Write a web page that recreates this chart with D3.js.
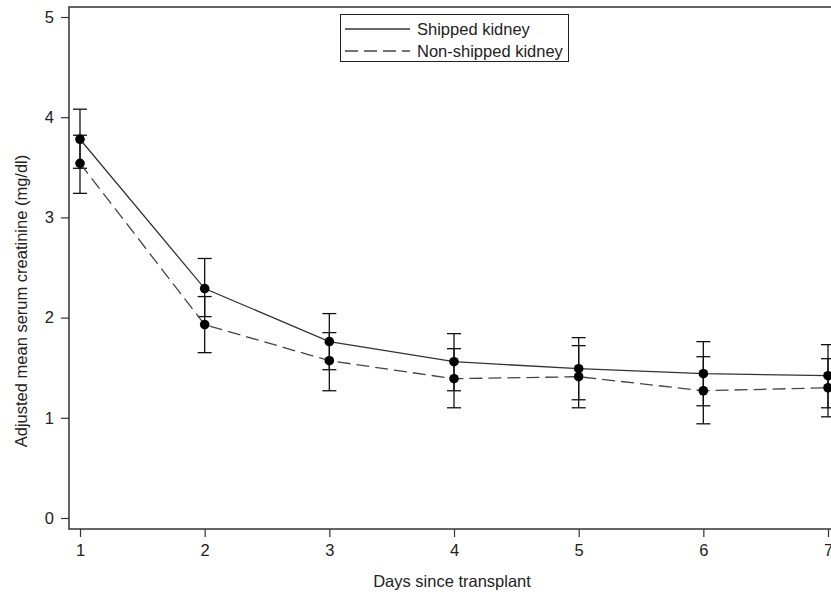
<!DOCTYPE html>
<html>
<head>
<meta charset="utf-8">
<script src="https://cdn.jsdelivr.net/npm/d3@7"></script>
<style>
  body { margin: 0; background: #fff; }
  text { font-family: "Liberation Sans", Arial, sans-serif; fill: #222; }
</style>
</head>
<body>
<script>
// data
const days = [1, 2, 3, 4, 5, 6, 7];
const shippedMean = [3.78, 2.29, 1.76, 1.56, 1.49, 1.44, 1.42];
const shippedLow  = [3.49, 2.01, 1.48, 1.27, 1.18, 1.12, 1.10];
const shippedHigh = [4.08, 2.59, 2.04, 1.84, 1.80, 1.76, 1.73];
const nonMean = [3.54, 1.93, 1.57, 1.39, 1.41, 1.27, 1.30];
const nonLow  = [3.24, 1.65, 1.27, 1.10, 1.10, 0.94, 1.01];
const nonHigh = [3.82, 2.21, 1.85, 1.69, 1.72, 1.61, 1.59];
const yTicks = [0, 1, 2, 3, 4, 5];
const seriesNames = ["Shipped kidney", "Non-shipped kidney"];

const width = 831, height = 597;
const frame = { left: 69, top: 7, bottom: 529, right: 850 };
const fontSize = 16.5;

const svg = d3.select("body").append("svg")
  .attr("width", width)
  .attr("height", height);

// scales
const x = d3.scaleLinear().domain([1, 7]).range([80, 828]);
const y = d3.scaleLinear().domain([0, 5]).range([518, 17]);

// frame (right side runs off the page)
svg.append("rect")
  .attr("x", frame.left).attr("y", frame.top)
  .attr("width", frame.right - frame.left).attr("height", frame.bottom - frame.top)
  .attr("fill", "none").attr("stroke", "#333").attr("stroke-width", 1.5);

// axes
const yAxis = svg.append("g")
  .attr("transform", `translate(${frame.left},0)`)
  .call(d3.axisLeft(y).tickValues(yTicks).tickFormat(d3.format("d")).tickSize(8).tickPadding(7));
const xAxis = svg.append("g")
  .attr("transform", `translate(0,${frame.bottom})`)
  .call(d3.axisBottom(x).tickValues(days).tickFormat(d3.format("d")).tickSize(8).tickPadding(7));
[yAxis, xAxis].forEach(g => {
  g.select(".domain").remove();
  g.selectAll("line").attr("stroke", "#333").attr("stroke-width", 1.2);
  g.selectAll("text").attr("font-size", fontSize).attr("fill", "#222")
    .style("font-family", '"Liberation Sans", Arial, sans-serif');
});

// axis titles
svg.append("text")
  .attr("x", 452).attr("y", 587)
  .attr("text-anchor", "middle").attr("font-size", fontSize)
  .text("Days since transplant");
svg.append("text")
  .attr("transform", `translate(27,301) rotate(-90)`)
  .attr("text-anchor", "middle").attr("font-size", fontSize)
  .text("Adjusted mean serum creatinine (mg/dl)");

const series = [
  { mean: shippedMean, low: shippedLow, high: shippedHigh, dash: null, color: "#333" },
  { mean: nonMean, low: nonLow, high: nonHigh, dash: "13,6", color: "#444" }
];

const line = d3.line().x((d, i) => x(days[i])).y(d => y(d));

series.forEach(s => {
  svg.append("path")
    .datum(s.mean)
    .attr("d", line)
    .attr("fill", "none")
    .attr("stroke", s.color)
    .attr("stroke-width", 1.3)
    .attr("stroke-dasharray", s.dash);

  // error bars
  const eb = svg.append("g").selectAll("g").data(days).join("g");
  eb.append("line")
    .attr("x1", d => x(d)).attr("x2", d => x(d))
    .attr("y1", (d, i) => y(s.low[i])).attr("y2", (d, i) => y(s.high[i]))
    .attr("stroke", "#111").attr("stroke-width", 1.3);
  [s.low, s.high].forEach(arr => {
    eb.append("line")
      .attr("x1", d => x(d) - 7).attr("x2", d => x(d) + 7)
      .attr("y1", (d, i) => y(arr[i])).attr("y2", (d, i) => y(arr[i]))
      .attr("stroke", "#111").attr("stroke-width", 1.3);
  });
});

series.forEach(s => {
  svg.append("g").selectAll("circle").data(s.mean).join("circle")
    .attr("cx", (d, i) => x(days[i])).attr("cy", d => y(d))
    .attr("r", 4.8).attr("fill", "#000");
});

// legend
const legend = svg.append("g");
legend.append("rect")
  .attr("x", 340.5).attr("y", 14.5).attr("width", 228).attr("height", 47)
  .attr("fill", "#fff").attr("stroke", "#222").attr("stroke-width", 1);
seriesNames.forEach((name, i) => {
  const ly = 29 + i * 22;
  legend.append("line")
    .attr("x1", 345).attr("x2", 410).attr("y1", ly).attr("y2", ly)
    .attr("stroke", series[i].color).attr("stroke-width", 1.3)
    .attr("stroke-dasharray", series[i].dash);
  legend.append("text")
    .attr("x", 417).attr("y", ly + 5.5).attr("font-size", fontSize)
    .text(name);
});
</script>
</body>
</html>
